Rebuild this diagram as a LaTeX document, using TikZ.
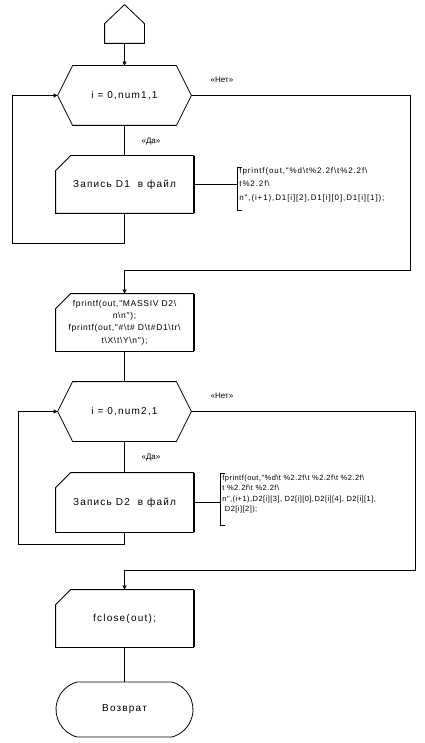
\documentclass[tikz,border=0pt]{standalone}
\usepackage{fontspec}
\setmainfont{Liberation Sans}
\newfontfamily\mainsp{Liberation Sans}[LetterSpace=12]
\newfontfamily\cmtsp{Liberation Sans}[LetterSpace=6]
\newfontfamily\cmtwide{Liberation Sans}[LetterSpace=11]
\newfontfamily\blksp{Liberation Sans}[LetterSpace=8]
\usetikzlibrary{arrows.meta,shapes.misc,calc}
\newcommand\chamferout[1]{\draw[outl] (#1.south west) -- ($(#1.north west)+(0,15)$) -- ($(#1.north west)+(15,0)$) -- (#1.north east) -- (#1.south east) -- cycle;
  \draw[line width=1.6pt] ($(#1.north east)+(0.4,0)$) -- ($(#1.south east)+(0.4,0)$);}
\newcommand\hexout[1]{\draw[outl] (#1.west) -- ($(#1.north west)+(15,0)$) -- ($(#1.north east)+(-15,0)$) -- (#1.east) -- ($(#1.south east)+(-15,0)$) -- ($(#1.south west)+(15,0)$) -- cycle;}
\newcommand\bracketout[2]{\draw[brk] ($(#1.north west)+(5,0)$) -- (#1.north west) -- ($(#1.north west)+(0,#2)$) -- ($(#1.north west)+(5,#2)$);}
\begin{document}
\begin{tikzpicture}[x=1pt,y=-1pt,line width=0.8pt,
  every node/.style={inner sep=0pt},
  outl/.style={draw=black,line width=0.8pt},
  brk/.style={draw=black,line width=0.6pt},
  blk/.style={minimum width=137pt,minimum height=57pt,align=center,font=\mainsp\fontsize{10}{12}\selectfont},
  hexb/.style={minimum width=133pt,minimum height=59pt,align=center,font=\mainsp\fontsize{10}{12}\selectfont},
  cmt/.style={align=left,anchor=west,inner xsep=2pt,font=\cmtsp\fontsize{7.5}{10.5}\selectfont},
  lbl/.style={font=\fontsize{8}{10}\selectfont},
  arr/.style={-{Triangle[width=4pt,length=4pt]}},
  conn/.style={draw=black,line width=0.8pt}]
\useasboundingbox (0,0) rectangle (424,743);
% start connector
\node[minimum width=39pt,minimum height=19pt] (s) at (124.5,33.5) {};
\draw[outl] (s.south west) -- (s.north west) -- ($(s.north)+(0,-19)$) -- (s.north east) -- (s.south east) -- cycle;
% first loop
\node[hexb] (h1) at (124.5,95.5) {i = 0,num1,1};
\hexout{h1}
\node[blk] (b1) at (124.5,184.5) {Запись D1\ \ в файл};
\chamferout{b1}
\node[cmt,font=\cmtwide\fontsize{8}{13.5}\selectfont] (c1) at (237,184.5) {fprintf(out,"\%d\textbackslash t\%2.2f\textbackslash t\%2.2f\textbackslash\\t\%2.2f\textbackslash\\n",(i+1),D1[i][2],D1[i][0],D1[i][1]);};
\bracketout{c1}{43}
\node[blk,font=\blksp\fontsize{8.5}{12.3}\selectfont] (b2) at (124.5,322.5) {fprintf(out,"MASSIV D2\textbackslash\\n\textbackslash n");\\fprintf(out,"\#\textbackslash t\# D\textbackslash t\#D1\textbackslash tr\textbackslash\\t\textbackslash X\textbackslash t\textbackslash Y\textbackslash n");};
\chamferout{b2}
% second loop
\node[hexb] (h2) at (124.5,411.5) {i = 0,num2,1};
\hexout{h2}
\node[blk,minimum height=59pt] (b3) at (124.5,502.5) {Запись D2\ \ в файл};
\chamferout{b3}
\node[cmt,minimum height=52pt] (c2) at (220,500) {fprintf(out,"\%d\textbackslash t \%2.2f\textbackslash t \%2.2f\textbackslash t \%2.2f\textbackslash\\t \%2.2f\textbackslash t \%2.2f\textbackslash\\n",(i+1),D2[i][3], D2[i][0],D2[i][4], D2[i][1],\\\ D2[i][2]);\\\strut};
\bracketout{c2}{52}
\node[blk] (b4) at (124.5,618.5) {fclose(out);};
\chamferout{b4}
\node[draw,rounded rectangle,rounded rectangle arc length=150,minimum width=137pt,minimum height=55pt,font=\mainsp\fontsize{10}{12}\selectfont,line width=0.8pt] (t) at (124.5,709.5) {Возврат};
% labels
\node[lbl] (n1) at (222,80) {«Нет»};
\node[lbl] (d1) at (151,142) {«Да»};
\node[lbl] (n2) at (222,396) {«Нет»};
\node[lbl] (d2) at (151,458) {«Да»};
% coordinates
\coordinate (l1) at (12,243);
\coordinate (r1) at (410,270);
\coordinate (l2) at (18,544);
\coordinate (r2) at (415,570);
% connectors
\draw[conn,arr] (s.south) -- (h1.north);
\draw[conn] (h1.south) -- (b1.north);
\draw[conn,arr] (b1.south) |- (l1) |- (h1.west);
\draw[conn] (b1.east) -- (c1.west);
\draw[conn,arr] (h1.east) -| (r1) -| (b2.north);
\draw[conn] (b2.south) -- (h2.north);
\draw[conn] (h2.south) -- (b3.north);
\draw[conn,arr] (b3.south) |- (l2) |- (h2.west);
\draw[conn] (b3.east) -- (b3.east -| c2.west);
\draw[conn,arr] (h2.east) -| (r2) -| (b4.north);
\draw[conn] (b4.south) -- (t.north);
\end{tikzpicture}
\end{document}
